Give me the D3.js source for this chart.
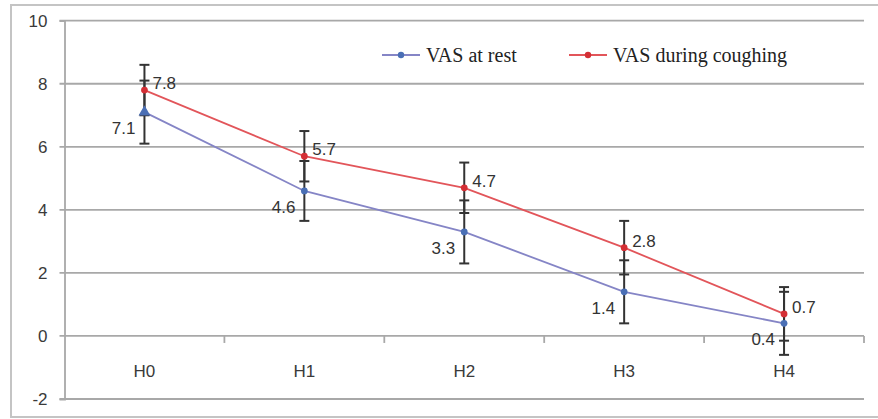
<!DOCTYPE html>
<html>
<head>
<meta charset="utf-8">
<script src="https://cdn.jsdelivr.net/npm/d3@7"></script>
<style>
  body { margin: 0; background: #fff; }
  svg { display: block; }
</style>
</head>
<body>
<div id="chart"></div>
<script>
// data
const times = ['H0', 'H1', 'H2', 'H3', 'H4']
const restMean = [7.1, 4.6, 3.3, 1.4, 0.4]
const restSD = [1.0, 0.95, 1.0, 1.0, 1.0]
const coughMean = [7.8, 5.7, 4.7, 2.8, 0.7]
const coughSD = [0.8, 0.8, 0.8, 0.85, 0.85]
const yTicks = [-2, 0, 2, 4, 6, 8, 10]
const seriesNames = ['VAS at rest', 'VAS during coughing']

const fullWidth = 878
const fullHeight = 419
const margin = {top: 20.7, right: 14, bottom: 20, left: 64.5}
const width = 864 - margin.left
const height = 399 - margin.top

const svg = d3.select('#chart').append('svg')
  .attr('width', fullWidth)
  .attr('height', fullHeight)

// outer frame
svg.append('rect')
  .attr('x', 11).attr('y', 5)
  .attr('width', 880).attr('height', 412)
  .attr('fill', '#fff')
  .attr('stroke', '#c4c4c4')
  .attr('stroke-width', 2)

const g = svg.append('g')
  .attr('transform', 'translate(' + margin.left + ',' + margin.top + ')')

const x = d3.scaleBand().domain(times).range([0, width])
const y = d3.scaleLinear().domain([-2, 10]).range([height, 0])
const cx = d => x(d) + x.bandwidth() / 2

// gridlines
g.append('g').selectAll('line')
  .data(yTicks)
  .join('line')
  .attr('x1', -5).attr('x2', width)
  .attr('y1', d => y(d)).attr('y2', d => y(d))
  .attr('stroke', '#a8a8a8')
  .attr('stroke-width', 1.8)

// y axis
const yAxis = g.append('g')
  .call(d3.axisLeft(y).tickValues(yTicks).tickFormat(d => String(d)).tickSize(5).tickPadding(12))
yAxis.select('.domain').attr('stroke', '#a8a8a8').attr('stroke-width', 1.8)
yAxis.selectAll('.tick line').attr('stroke', 'none')
yAxis.selectAll('text')
  .attr('font-family', 'Liberation Sans, Arial, sans-serif')
  .attr('font-size', 17)
  .attr('fill', '#3a3a3a')

// x axis on the zero line
const xAxis = g.append('g')
  .attr('transform', 'translate(0,' + y(0) + ')')
  .call(d3.axisBottom(x).tickSize(0).tickPadding(29))
xAxis.select('.domain').remove()
xAxis.selectAll('text')
  .attr('font-family', 'Liberation Sans, Arial, sans-serif')
  .attr('font-size', 17)
  .attr('fill', '#3a3a3a')

// category boundary ticks
g.append('g').selectAll('line')
  .data(times)
  .join('line')
  .attr('x1', d => x(d) + x.bandwidth()).attr('x2', d => x(d) + x.bandwidth())
  .attr('y1', y(0)).attr('y2', y(0) + 7)
  .attr('stroke', '#a8a8a8')
  .attr('stroke-width', 1.8)

const series = [
  {name: seriesNames[0], mean: restMean, sd: restSD, line: '#8585c6', dot: '#4a6fb5'},
  {name: seriesNames[1], mean: coughMean, sd: coughSD, line: '#e2555a', dot: '#d42f35'}
]

const line = d3.line()
  .x((d, i) => cx(times[i]))
  .y(d => y(d))

series.forEach(s => {
  g.append('path')
    .datum(s.mean)
    .attr('fill', 'none')
    .attr('stroke', s.line)
    .attr('stroke-width', 1.8)
    .attr('d', line)
})

// error bars
series.forEach(s => {
  const eb = g.append('g').selectAll('g')
    .data(s.mean.map((m, i) => ({t: times[i], lo: m - s.sd[i], hi: m + s.sd[i]})))
    .join('g')
    .attr('stroke', '#333')
    .attr('stroke-width', 2)
  eb.append('line')
    .attr('x1', d => cx(d.t)).attr('x2', d => cx(d.t))
    .attr('y1', d => y(d.lo)).attr('y2', d => y(d.hi))
  eb.append('line')
    .attr('x1', d => cx(d.t) - 5).attr('x2', d => cx(d.t) + 5)
    .attr('y1', d => y(d.lo)).attr('y2', d => y(d.lo))
  eb.append('line')
    .attr('x1', d => cx(d.t) - 5).attr('x2', d => cx(d.t) + 5)
    .attr('y1', d => y(d.hi)).attr('y2', d => y(d.hi))
})

// markers
series.forEach((s, k) => {
  g.append('g').selectAll('path')
    .data(s.mean)
    .join('path')
    .attr('transform', (d, i) => 'translate(' + cx(times[i]) + ',' + y(d) + ')')
    .attr('d', (d, i) => d3.symbol()
      .type(k === 0 && i === 0 ? d3.symbolTriangle : d3.symbolCircle)
      .size(k === 0 && i === 0 ? 60 : 36)())
    .attr('fill', s.dot)
})

// data labels
const labelFont = 'Liberation Sans, Arial, sans-serif'
g.append('g').selectAll('text')
  .data(restMean)
  .join('text')
  .attr('x', (d, i) => cx(times[i]) - 9)
  .attr('y', d => y(d) + 16)
  .attr('dy', '0.35em')
  .attr('text-anchor', 'end')
  .attr('font-family', labelFont)
  .attr('font-size', 17)
  .attr('fill', '#333')
  .text(d => d.toFixed(1))

g.append('g').selectAll('text')
  .data(coughMean)
  .join('text')
  .attr('x', (d, i) => cx(times[i]) + 8)
  .attr('y', d => y(d) - 7)
  .attr('dy', '0.35em')
  .attr('text-anchor', 'start')
  .attr('font-family', labelFont)
  .attr('font-size', 17)
  .attr('fill', '#333')
  .text(d => d.toFixed(1))

// legend
const legendX = [382, 569]
const legend = svg.append('g').selectAll('g')
  .data(series)
  .join('g')
  .attr('transform', (d, i) => 'translate(' + legendX[i] + ',55)')
legend.append('line')
  .attr('x1', 0).attr('x2', 38)
  .attr('stroke', d => d.line)
  .attr('stroke-width', 1.8)
legend.append('circle')
  .attr('cx', 19).attr('r', 3.2)
  .attr('fill', d => d.dot)
legend.append('text')
  .attr('x', 44)
  .attr('dy', '0.33em')
  .attr('font-family', 'Liberation Serif, Times New Roman, serif')
  .attr('font-size', 20)
  .attr('fill', '#222')
  .text(d => d.name)
</script>
</body>
</html>
